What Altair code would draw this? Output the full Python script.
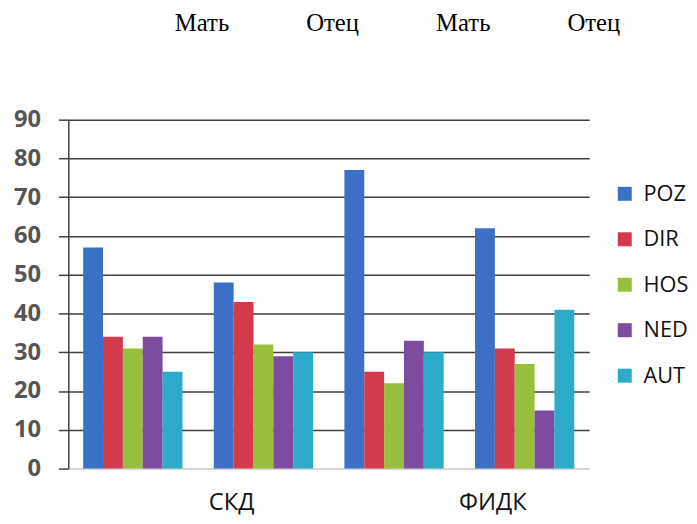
import altair as alt
import pandas as pd

groups = ["Мать СКД", "Отец СКД", "Мать ФИДК", "Отец ФИДК"]
top_labels = ["Мать", "Отец", "Мать", "Отец"]
series = ["POZ", "DIR", "HOS", "NED", "AUT"]
poz = [57, 48, 77, 62]
dir_ = [34, 43, 25, 31]
hos = [31, 32, 22, 27]
ned = [34, 29, 33, 15]
aut = [25, 30, 30, 41]
colors = ["#3c6fc6", "#d33a4c", "#97bf3b", "#7d4b9f", "#2cabcb"]

values = {"POZ": poz, "DIR": dir_, "HOS": hos, "NED": ned, "AUT": aut}
rows = []
for s in series:
    for g, v in zip(groups, values[s]):
        rows.append({"group": g, "series": s, "value": v})
df = pd.DataFrame(rows)
df_top = pd.DataFrame({"group": groups, "label": top_labels})

x_scale = alt.Scale(paddingInner=0.24, paddingOuter=0.114)
y_scale = alt.Scale(domain=[0, 90])

x_axis = alt.Axis(
    orient="bottom",
    title=None,
    labelAngle=0,
    labelExpr="indexof(datum.label, 'Мать') === 0 ? split(datum.label, ' ')[1] : ''",
    labelOffset=100,
    labelFont="Open Sans",
    labelFontSize=24,
    labelColor="#111111",
    labelPadding=22,
    domainColor="#d0d0d0",
    ticks=False,
    grid=False,
)

bars = alt.Chart(df).mark_bar().encode(
    x=alt.X("group:N", sort=groups, scale=x_scale, axis=x_axis),
    xOffset=alt.XOffset("series:N", sort=series, scale=alt.Scale(paddingInner=0, paddingOuter=0)),
    y=alt.Y(
        "value:Q",
        scale=y_scale,
        axis=alt.Axis(
            title=None,
            values=list(range(0, 91, 10)),
            labelFont="Open Sans",
            labelFontSize=24,
            labelFontWeight="bold",
            labelColor="#555555",
            labelPadding=18,
            tickSize=10,
            tickColor="#404040",
            tickWidth=1.5,
            domainColor="#404040",
            domainWidth=1.5,
            grid=True,
            gridColor={"condition": {"test": "datum.value === 0", "value": "#d0d0d0"}, "value": "#404040"},
            gridWidth=1.5,
        ),
    ),
    color=alt.Color(
        "series:N",
        sort=series,
        scale=alt.Scale(domain=series, range=colors),
        legend=alt.Legend(
            title=None,
            orient="none",
            legendX=552,
            legendY=64,
            symbolType="square",
            symbolSize=200,
            symbolStrokeWidth=0,
            labelFont="Open Sans",
            labelFontSize=22,
            labelColor="#111111",
            labelOffset=8,
            rowPadding=24,
        ),
    ),
)

top = alt.Chart(df_top).mark_text(
    font="Liberation Serif", fontSize=25, color="#000000", dx=70, baseline="middle"
).encode(
    x=alt.X("group:N", sort=groups, scale=x_scale, axis=x_axis),
    y=alt.value(-98),
    text="label:N",
)

chart = (
    alt.layer(bars, top)
    .properties(width=527, height=353, padding={"left": 5, "top": 0, "right": 0, "bottom": 0})
    .configure_view(stroke=None)
)

chart.save("out.html", embed_options={"renderer": "svg", "actions": False})
